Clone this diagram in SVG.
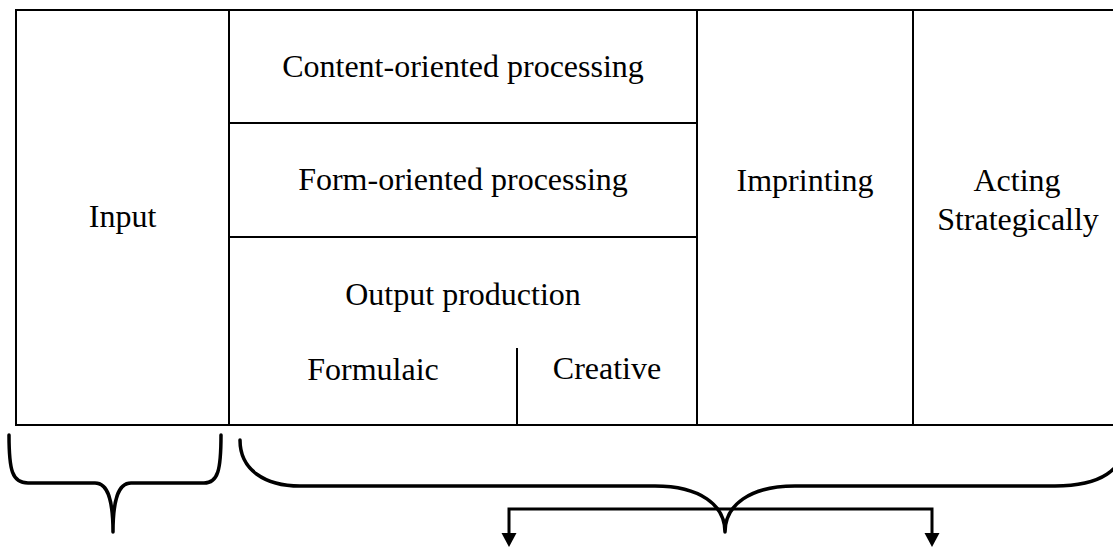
<svg xmlns="http://www.w3.org/2000/svg" width="1113" height="548" viewBox="0 0 1113 548">
<style>
.cell{fill:none;stroke:#000;stroke-width:2}
.t{font-family:"Liberation Serif","Times New Roman",serif;font-size:32px;fill:#000;text-anchor:middle}
.brace{fill:none;stroke:#000;stroke-width:3.5;stroke-linecap:round;stroke-linejoin:round}
.arr{fill:none;stroke:#000;stroke-width:3}
</style>
<defs>
<marker id="ah" markerUnits="userSpaceOnUse" markerWidth="14" markerHeight="16" viewBox="0 -8 14 16" refX="0" refY="0" orient="auto" overflow="visible">
<path d="M0,-7.5 L14,0 L0,7.5 z" fill="#000"/>
</marker>
</defs>
<rect width="1113" height="548" fill="#fff"/>
<g id="input">
<rect class="cell" x="16" y="10" width="213" height="415"/>
<text class="t" x="122.5" y="227">Input</text>
</g>
<g id="content">
<rect class="cell" x="229" y="10" width="468" height="113"/>
<text class="t" x="463" y="77">Content-oriented processing</text>
</g>
<g id="form">
<rect class="cell" x="229" y="123" width="468" height="114"/>
<text class="t" x="463" y="190">Form-oriented processing</text>
</g>
<g id="output">
<rect class="cell" x="229" y="237" width="468" height="188"/>
<text class="t" x="463" y="305">Output production</text>
</g>
<g id="formulaic">
<line class="cell" x1="517" y1="348" x2="517" y2="425"/>
<text class="t" x="373" y="380">Formulaic</text>
</g>
<g id="creative">
<text class="t" x="607" y="379">Creative</text>
</g>
<g id="imprinting">
<rect class="cell" x="697" y="10" width="216" height="415"/>
<text class="t" x="805" y="191">Imprinting</text>
</g>
<g id="acting">
<rect class="cell" x="913" y="10" width="220" height="415"/>
<text class="t" x="1017" y="191">Acting</text>
<text class="t" x="1018" y="230">Strategically</text>
</g>
<g id="connectors">
<path class="brace" d="M9,435 C9,470 12,483 28,483 L95,483 C108,483 113,500 113,532 C113,500 118,483 131,483 L204,483 C218,483 221,470 221,435"/>
<path class="brace" d="M240,440 C240,470 265,486 300,486 L655,486 C700,486 725,505 725,532 C725,505 750,486 795,486 L1055,486 C1100,486 1125,470 1125,440"/>
<path class="arr" d="M720,509 L509,509 L509,533" marker-end="url(#ah)"/>
<path class="arr" d="M720,509 L932,509 L932,533" marker-end="url(#ah)"/>
</g>
</svg>
